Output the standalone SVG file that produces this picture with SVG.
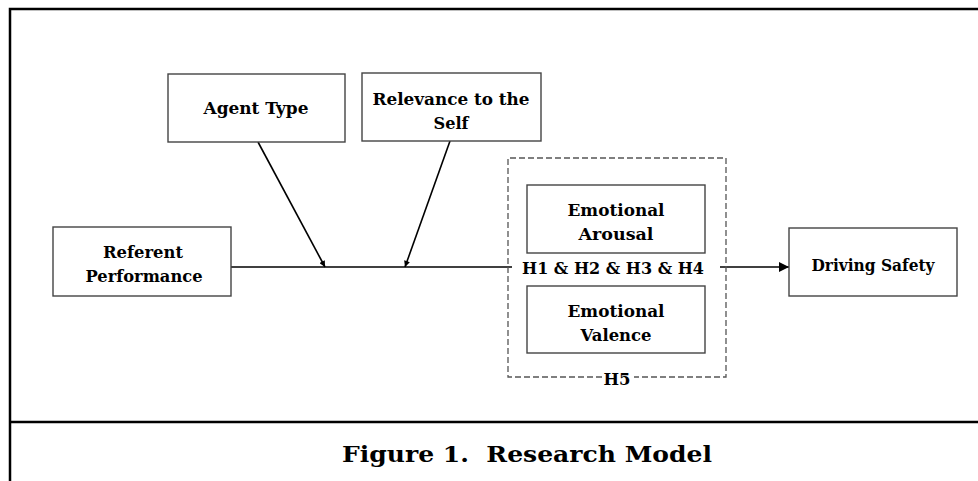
<svg xmlns="http://www.w3.org/2000/svg" width="978" height="481" viewBox="0 0 978 481">
<defs>
<style>
.frame{stroke:#000;stroke-width:2.5;fill:none}
.box{fill:#fff;stroke:#444;stroke-width:1.4}
.dash{fill:none;stroke:#555;stroke-width:1.3;stroke-dasharray:6 3}
.ln{stroke:#000;stroke-width:1.6;fill:none}
.t{font-family:"DejaVu Serif","Liberation Serif",serif;font-weight:bold;font-size:17.5px;fill:#000;text-anchor:middle}
.cap{font-family:"DejaVu Serif","Liberation Serif",serif;font-weight:bold;font-size:23px;fill:#000;text-anchor:middle;white-space:pre}
</style>
<marker id="big" viewBox="0 0 10 10" refX="10" refY="5" markerWidth="12" markerHeight="10" markerUnits="userSpaceOnUse" orient="auto"><path d="M0,0 L10,5 L0,10 z" fill="#000"/></marker>
<marker id="small" viewBox="0 0 10 10" refX="10" refY="5" markerWidth="7" markerHeight="6" markerUnits="userSpaceOnUse" orient="auto"><path d="M0,0 L10,5 L0,10 z" fill="#000"/></marker>
</defs>
<rect width="978" height="481" fill="#fff"/>
<g id="frame">
<path class="frame" d="M10,481 L10,9 L978,9"/>
<path class="frame" d="M10,422 L978,422"/>
</g>
<g id="connectors">
<path class="ln" d="M231,267 L512,267"/>
<path class="ln" d="M258,142 L325,267" marker-end="url(#small)"/>
<path class="ln" d="M450,141 L405,267" marker-end="url(#small)"/>
<path class="ln" d="M720,267 L789,267" marker-end="url(#big)"/>
</g>
<g id="group-h5">
<path class="dash" d="M602,377 L508,377 L508,158 L726,158 L726,377 L634,377"/>
<text class="t" x="617" y="385" textLength="27" lengthAdjust="spacingAndGlyphs">H5</text>
</g>
<g id="node-agent">
<rect class="box" x="168" y="74" width="177" height="68"/>
<text class="t" x="256" y="114" textLength="105" lengthAdjust="spacingAndGlyphs">Agent Type</text>
</g>
<g id="node-relevance">
<rect class="box" x="362" y="73" width="179" height="68"/>
<text class="t" x="451" y="105" textLength="157" lengthAdjust="spacingAndGlyphs">Relevance to the</text>
<text class="t" x="451" y="129" textLength="35" lengthAdjust="spacingAndGlyphs">Self</text>
</g>
<g id="node-referent">
<rect class="box" x="53" y="227" width="178" height="69"/>
<text class="t" x="143" y="258" textLength="80" lengthAdjust="spacingAndGlyphs">Referent</text>
<text class="t" x="144" y="282" textLength="117" lengthAdjust="spacingAndGlyphs">Performance</text>
</g>
<g id="node-arousal">
<rect class="box" x="527" y="185" width="178" height="68"/>
<text class="t" x="616" y="216" textLength="97" lengthAdjust="spacingAndGlyphs">Emotional</text>
<text class="t" x="616" y="240" textLength="75" lengthAdjust="spacingAndGlyphs">Arousal</text>
</g>
<g id="node-valence">
<rect class="box" x="527" y="286" width="178" height="67"/>
<text class="t" x="616" y="317" textLength="97" lengthAdjust="spacingAndGlyphs">Emotional</text>
<text class="t" x="616" y="341" textLength="71" lengthAdjust="spacingAndGlyphs">Valence</text>
</g>
<g id="label-h1-h4">
<text class="t" x="613" y="274" textLength="182" lengthAdjust="spacingAndGlyphs">H1 &amp; H2 &amp; H3 &amp; H4</text>
</g>
<g id="node-driving">
<rect class="box" x="789" y="228" width="168" height="68"/>
<text class="t" x="873" y="271" textLength="123" lengthAdjust="spacingAndGlyphs">Driving Safety</text>
</g>
<g id="caption">
<text class="cap" x="527" y="462" textLength="370" lengthAdjust="spacingAndGlyphs">Figure 1.  Research Model</text>
</g>
</svg>
